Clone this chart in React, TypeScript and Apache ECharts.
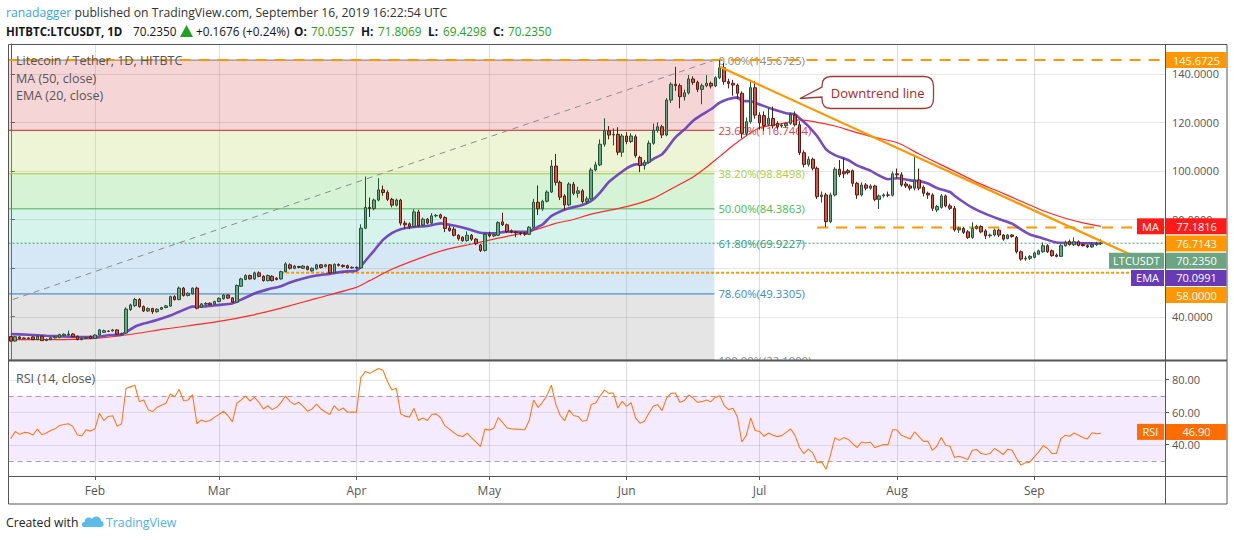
import React, { useEffect, useRef } from "react";
import * as echarts from "echarts";

const FONT = "'Open Sans', 'Noto Sans', sans-serif";

// ---------- categories ----------
const startDateUTC = Date.UTC(2019, 0, 13);
const dayCount = 261;
const monthNames = ["Jan", "Feb", "Mar", "Apr", "May", "Jun", "Jul", "Aug", "Sep", "Oct", "Nov", "Dec"];

// ---------- candles [open, close, low, high] ----------
const candlesJan = [
  [31.8, 29.9, 29.6, 32.0], [29.9, 31.7, 29.7, 32.1], [31.6, 30.9, 30.6, 31.9], [30.9, 31.2, 30.6, 31.5],
  [31.2, 31.0, 30.7, 31.4], [31.6, 30.5, 30.3, 31.9], [30.5, 31.9, 30.4, 32.2], [31.9, 30.1, 29.9, 32.3],
  [30.1, 30.6, 29.9, 31.0], [30.5, 31.3, 30.3, 31.6], [31.2, 31.6, 31.0, 31.9], [31.3, 32.6, 31.1, 32.9],
  [32.1, 32.7, 31.9, 33.1], [32.4, 32.8, 32.1, 34.2], [32.8, 31.7, 31.5, 33.2], [31.9, 30.5, 30.2, 32.1],
  [30.5, 31.0, 30.2, 31.3], [31.0, 31.4, 30.8, 31.7], [31.9, 31.0, 30.7, 32.1],
];
const candlesFeb = [
  [31.0, 32.4, 30.8, 32.7], [32.4, 34.5, 32.2, 34.9], [33.5, 34.2, 33.2, 34.6], [34.0, 33.9, 33.6, 34.3],
  [34.1, 34.5, 33.8, 34.9], [34.5, 32.7, 32.5, 34.8], [32.7, 33.0, 32.6, 33.4], [33.2, 43.1, 33.0, 43.8],
  [42.9, 44.8, 42.3, 45.3], [44.5, 47.0, 44.0, 47.7], [47.0, 44.1, 43.6, 47.6], [44.1, 42.3, 41.9, 44.6],
  [42.3, 43.3, 41.9, 43.8], [43.3, 42.0, 41.1, 43.6], [42.0, 43.0, 41.6, 43.4], [43.0, 43.7, 42.7, 44.0],
  [43.7, 44.4, 43.4, 44.8], [44.3, 48.2, 44.0, 48.6], [48.2, 47.0, 46.6, 48.8], [47.0, 51.7, 46.7, 52.4],
  [51.7, 48.7, 48.2, 52.2], [48.7, 49.6, 48.3, 50.0], [49.4, 51.7, 49.0, 52.0], [51.7, 43.4, 43.0, 52.3],
  [43.8, 45.2, 43.5, 45.6], [45.1, 45.4, 44.8, 45.9], [45.5, 44.9, 44.6, 45.8], [45.1, 46.2, 44.8, 46.5],
];
const candlesMar = [
  [46.2, 47.5, 45.9, 47.9], [47.3, 48.9, 47.0, 49.3], [48.9, 47.6, 47.2, 49.1], [47.7, 45.9, 45.5, 48.0],
  [45.9, 52.8, 45.6, 53.2], [52.5, 55.5, 52.2, 56.0], [55.3, 56.9, 55.0, 57.4], [56.9, 55.5, 55.2, 57.3],
  [55.5, 58.0, 55.1, 58.5], [58.0, 56.6, 56.2, 58.6], [56.6, 54.8, 54.4, 57.0], [54.8, 56.9, 54.5, 57.3],
  [56.6, 54.8, 54.5, 57.0], [55.8, 55.3, 54.9, 56.2], [55.5, 58.5, 55.2, 58.9], [58.5, 61.7, 58.2, 62.4],
  [61.3, 59.9, 59.4, 61.9], [59.9, 60.8, 59.5, 61.2], [60.6, 60.3, 59.9, 60.9], [59.9, 60.8, 59.6, 61.2],
  [60.6, 59.4, 59.0, 61.0], [58.8, 59.9, 58.5, 60.2], [59.7, 61.3, 59.3, 61.7], [61.3, 60.2, 59.8, 61.6],
  [60.6, 61.3, 60.3, 61.7], [61.3, 58.0, 57.6, 61.6], [58.0, 61.5, 57.8, 61.9], [61.5, 61.1, 60.6, 61.9],
  [61.1, 60.6, 60.1, 61.5], [61.0, 60.0, 59.7, 61.4], [60.0, 60.3, 59.7, 60.7],
];
const candlesApr = [
  [60.3, 60.0, 59.6, 60.6], [60.0, 76.4, 59.7, 78.0], [76.4, 85.0, 76.0, 97.7], [85.0, 84.5, 81.0, 89.0],
  [84.5, 88.0, 83.8, 88.6], [88.0, 92.2, 87.5, 97.0], [92.2, 91.1, 89.8, 94.0], [91.1, 88.3, 87.6, 92.0],
  [88.3, 85.9, 85.0, 88.9], [85.9, 88.0, 85.3, 88.6], [88.0, 78.5, 77.5, 88.5], [78.5, 77.8, 76.2, 79.5],
  [78.2, 77.1, 76.0, 78.8], [77.1, 83.1, 76.8, 84.2], [83.1, 77.4, 76.8, 84.0], [77.7, 80.1, 77.2, 80.8],
  [80.1, 78.5, 78.0, 80.6], [78.5, 81.5, 78.2, 82.6], [81.5, 81.7, 80.9, 82.2], [81.9, 80.8, 80.2, 82.4],
  [80.8, 76.3, 74.8, 81.3], [76.5, 75.4, 75.0, 77.4], [76.0, 73.5, 73.0, 76.9], [73.5, 72.1, 71.3, 73.9],
  [72.7, 71.3, 70.8, 73.1], [71.3, 73.5, 70.9, 75.1], [73.5, 71.9, 71.2, 74.0], [71.9, 70.0, 69.4, 72.3],
  [69.5, 67.2, 66.6, 70.0], [67.2, 73.9, 66.8, 74.4],
];
const candlesMay = [
  [73.9, 73.2, 72.6, 75.0], [73.2, 73.7, 72.8, 74.2], [73.5, 78.7, 73.2, 79.3], [79.0, 77.8, 77.3, 82.8],
  [77.8, 75.0, 74.4, 78.3], [75.3, 74.9, 74.3, 75.9], [74.9, 74.5, 72.7, 75.3], [74.5, 74.1, 73.5, 74.9],
  [74.3, 73.9, 73.2, 74.8], [73.9, 76.8, 73.6, 77.2], [76.8, 87.1, 76.5, 88.5], [87.1, 84.4, 81.8, 94.0],
  [84.4, 87.5, 83.6, 88.1], [87.5, 91.3, 87.0, 92.0], [91.3, 102.0, 90.9, 104.5], [102.0, 95.3, 94.0, 107.0],
  [95.3, 89.2, 88.0, 96.0], [89.7, 86.0, 84.0, 90.4], [86.0, 94.6, 85.5, 95.3], [94.5, 90.8, 90.0, 95.5],
  [90.8, 91.8, 89.0, 93.5], [91.8, 87.4, 86.5, 92.5], [87.4, 88.5, 86.3, 89.5], [88.5, 100.4, 88.0, 101.3],
  [100.4, 102.5, 99.8, 103.8], [102.5, 111.0, 102.0, 113.0], [111.0, 116.5, 110.0, 121.7], [116.5, 114.8, 113.0, 118.5],
  [114.8, 115.1, 110.5, 117.5], [115.1, 107.7, 106.5, 118.0], [107.7, 114.4, 105.8, 115.3],
];
const candlesJun = [
  [114.4, 112.1, 111.0, 116.0], [112.1, 114.4, 111.5, 115.5], [114.1, 106.3, 105.5, 115.0], [105.5, 102.2, 99.5, 106.2],
  [102.2, 103.6, 100.5, 104.5], [103.6, 111.4, 103.0, 112.5], [111.4, 116.7, 110.8, 119.5], [116.7, 118.2, 115.8, 120.0],
  [118.2, 114.8, 113.5, 119.0], [114.8, 129.2, 114.3, 130.0], [129.2, 135.7, 128.0, 136.5], [135.7, 135.1, 133.0, 142.9],
  [135.1, 130.6, 125.8, 136.0], [130.6, 132.2, 129.0, 133.5], [132.2, 137.9, 131.5, 139.5], [137.9, 136.5, 135.5, 139.0],
  [136.5, 133.6, 132.5, 137.2], [133.6, 135.1, 127.5, 136.0], [135.1, 136.1, 134.5, 139.5], [136.1, 135.0, 134.0, 136.8],
  [135.0, 138.4, 134.5, 139.0], [138.4, 142.5, 137.8, 145.6725], [142.5, 136.8, 135.5, 144.5], [136.8, 136.1, 134.0, 138.0],
  [136.1, 135.4, 131.0, 137.5], [135.4, 132.0, 129.5, 136.0], [132.0, 115.5, 113.5, 132.8], [115.5, 120.3, 114.5, 122.0],
  [120.3, 134.3, 119.5, 137.5], [134.3, 123.0, 121.5, 137.0],
];
const candlesJul = [
  [123.0, 119.8, 117.0, 124.2], [122.8, 118.7, 116.5, 124.5], [119.2, 121.6, 118.5, 126.0], [121.6, 118.6, 117.5, 126.5],
  [119.6, 118.2, 117.0, 120.5], [118.5, 118.9, 117.8, 119.8], [118.6, 119.6, 117.9, 120.2], [119.6, 123.3, 119.0, 124.0],
  [123.0, 119.0, 118.3, 124.5], [119.0, 107.5, 106.5, 120.5], [107.5, 102.7, 101.5, 108.5], [102.7, 104.8, 101.8, 106.0],
  [104.8, 101.1, 100.2, 105.5], [101.1, 89.4, 88.5, 101.8], [89.4, 90.1, 87.0, 91.5], [90.1, 79.1, 77.0, 91.0],
  [79.1, 90.1, 78.5, 91.0], [90.1, 100.7, 89.5, 101.5], [100.7, 98.4, 97.5, 104.5], [99.7, 98.8, 97.0, 105.5],
  [100.1, 99.3, 98.5, 100.8], [100.1, 94.9, 93.5, 100.6], [94.9, 90.1, 88.5, 95.5], [90.1, 94.2, 89.5, 95.3],
  [94.2, 92.9, 92.0, 95.0], [92.9, 93.8, 92.3, 94.5], [93.8, 88.3, 87.5, 94.3], [88.3, 89.7, 84.3, 90.3],
  [89.7, 90.1, 89.0, 90.8], [90.1, 90.0, 89.2, 91.5], [90.0, 98.8, 89.5, 99.8],
];
const candlesAug = [
  [98.8, 98.4, 97.0, 101.0], [98.4, 94.2, 93.5, 99.5], [94.6, 93.8, 93.0, 95.5], [93.8, 92.9, 92.0, 94.5],
  [92.9, 96.3, 92.0, 106.6], [96.3, 92.9, 92.0, 101.0], [93.3, 90.8, 89.5, 94.0], [90.8, 90.1, 88.5, 91.5],
  [90.1, 84.6, 83.5, 90.8], [83.9, 85.3, 83.0, 86.0], [85.0, 89.7, 84.5, 90.5], [89.7, 85.6, 85.0, 90.3],
  [85.6, 84.6, 84.0, 86.5], [84.6, 75.7, 75.0, 85.5], [75.7, 76.4, 74.5, 77.0], [76.3, 74.7, 74.0, 77.0],
  [74.9, 72.6, 72.0, 75.6], [72.6, 76.3, 72.0, 78.8], [76.3, 77.1, 75.8, 77.8], [77.1, 74.9, 74.3, 77.6],
  [75.3, 73.3, 72.0, 76.0], [73.3, 73.6, 72.5, 74.2], [73.6, 75.6, 73.0, 76.2], [75.6, 73.6, 72.8, 76.2],
  [73.6, 71.9, 71.2, 74.0], [72.2, 73.6, 71.8, 74.0], [73.6, 73.0, 72.5, 74.0], [72.6, 66.7, 66.0, 73.2],
  [66.7, 63.7, 63.0, 67.2], [63.7, 64.0, 63.0, 65.0], [64.0, 64.8, 63.3, 65.3],
];
const candlesSep = [
  [64.4, 66.2, 64.0, 66.8], [65.7, 67.1, 65.3, 67.6], [66.7, 69.2, 66.3, 70.5], [69.2, 66.7, 66.2, 69.8],
  [67.1, 65.1, 64.6, 67.6], [65.3, 64.8, 64.4, 66.0], [64.8, 69.2, 64.5, 69.8], [69.2, 70.6, 68.8, 71.3],
  [70.9, 69.7, 69.2, 71.7], [69.6, 70.8, 69.1, 72.6], [70.8, 69.3, 68.9, 71.4], [69.7, 69.2, 68.8, 70.1],
  [69.2, 68.7, 68.2, 69.7], [68.7, 69.6, 68.3, 70.7], [69.6, 70.0557, 69.1, 70.8], [70.0557, 70.235, 69.4298, 71.8069],
];

// ---------- RSI (14, close) ----------
const rsiJan = [43.7, 48.1, 46.3, 47.5, 47.3, 45.9, 49.5, 46.1, 47.1, 48.7, 49.7, 51.8, 52.4, 52.8, 51.2, 46.1, 45.3, 49.1, 48.3];
const rsiFeb = [49.7, 59.3, 54.8, 57.3, 57.7, 51.2, 52.8, 74.5, 75.5, 76.5, 66.4, 67.4, 61.5, 60.3, 62.9, 64.2, 65.4, 71.1, 69.4, 73.9, 67.0, 67.4, 70.7, 52.8, 55.2, 54.0, 54.8, 56.9];
const rsiMar = [58.5, 60.5, 57.9, 54.0, 65.4, 67.5, 69.8, 66.8, 69.0, 66.0, 61.9, 63.9, 61.5, 62.9, 66.0, 69.8, 66.6, 64.6, 66.0, 63.5, 60.5, 61.9, 64.9, 61.9, 60.0, 58.5, 64.0, 60.9, 62.5, 59.9, 60.0];
const rsiApr = [59.9, 81.2, 84.9, 83.8, 85.3, 86.8, 85.7, 78.8, 73.5, 74.7, 58.9, 57.5, 56.9, 62.3, 54.8, 56.4, 54.8, 58.5, 58.9, 56.5, 51.5, 49.5, 47.3, 45.5, 45.0, 47.0, 44.1, 41.5, 38.8, 49.5];
const rsiMay = [48.9, 50.0, 56.6, 53.6, 50.2, 49.7, 49.5, 49.3, 49.1, 54.8, 67.4, 62.9, 66.0, 70.1, 76.5, 64.9, 57.9, 54.8, 61.3, 57.9, 57.3, 54.4, 54.8, 64.6, 65.6, 70.0, 73.5, 71.5, 71.7, 62.5, 66.6];
const rsiJun = [63.5, 65.8, 56.4, 53.2, 54.4, 59.3, 63.6, 64.6, 60.9, 68.6, 71.5, 71.7, 66.0, 67.0, 70.5, 68.6, 66.0, 66.4, 67.4, 66.4, 69.0, 70.1, 64.0, 61.5, 62.3, 56.9, 41.6, 45.7, 56.4, 48.7];
const rsiJul = [48.1, 45.1, 47.1, 45.7, 44.9, 45.5, 47.5, 49.7, 45.7, 38.2, 34.5, 37.2, 34.9, 28.8, 29.4, 24.8, 33.5, 44.3, 42.6, 44.3, 43.2, 40.6, 38.2, 41.6, 41.0, 41.6, 38.2, 39.2, 40.0, 40.0, 49.1];
const rsiAug = [49.1, 45.7, 44.7, 43.5, 47.9, 44.7, 42.0, 42.0, 36.5, 39.0, 44.3, 39.6, 39.0, 32.1, 32.9, 31.9, 30.9, 36.5, 37.0, 34.5, 33.9, 34.5, 37.6, 35.9, 33.9, 37.2, 36.5, 31.5, 27.4, 28.8, 29.2];
const rsiSep = [32.5, 35.5, 39.4, 37.6, 34.5, 34.5, 43.7, 45.7, 45.1, 47.1, 45.7, 44.3, 43.5, 47.3, 46.7, 46.9];

// ---------- moving averages [dayIndex, value] ----------
const ma50 = [
  [0, 30.5], [9, 30.5], [19, 31.0], [26, 32.4], [35, 34.9], [47, 38.0], [54, 40.4], [61, 43.5], [69, 47.5],
  [78, 52.0], [81, 54.8], [86, 59.5], [93, 64.5], [98, 67.5], [104, 69.9], [110, 72.3], [117, 75.0], [123, 78.4],
  [127, 80.0], [131, 82.2], [139, 85.3], [145, 88.7], [150, 93.5], [154, 97.5], [157, 101.5], [160, 106.0],
  [163, 110.5], [166, 114.5], [169, 117.8], [174, 119.5], [178, 121.0], [182, 120.0], [186, 118.5], [190, 116.3],
  [195, 113.8], [200, 111.7], [205, 107.0], [210, 102.5], [214, 99.0], [218, 95.3], [223, 91.5], [228, 87.5],
  [233, 83.6], [238, 80.5], [242, 78.6], [246, 77.1816],
];
const ema20 = [
  [0, 32.8], [4, 32.5], [8, 32.1], [12, 31.8], [16, 31.6], [19, 31.6], [22, 32.3], [25, 32.55], [26, 33.55],
  [28, 35.8], [30, 37.1], [33, 38.6], [36, 40.4], [38, 42.0], [41, 44.1], [44, 44.2], [47, 44.8], [50, 45.4],
  [52, 47.0], [55, 49.5], [58, 51.2], [61, 52.5], [63, 54.0], [66, 55.7], [69, 56.9], [72, 57.6], [75, 58.5],
  [78, 58.9], [79, 60.6], [80, 62.9], [82, 67.2], [84, 71.6], [86, 74.4], [88, 76.0], [91, 76.9], [94, 77.3],
  [97, 78.4], [100, 77.5], [103, 76.2], [106, 74.5], [109, 74.3], [112, 75.0], [115, 74.9], [117, 75.0],
  [118, 76.1], [120, 77.9], [122, 81.4], [124, 83.3], [126, 84.6], [129, 86.0], [131, 87.6], [133, 91.1],
  [135, 95.5], [137, 98.4], [139, 101.1], [141, 102.7], [143, 102.8], [145, 104.9], [147, 106.9], [148, 109.0],
  [150, 113.8], [152, 117.0], [154, 120.7], [156, 123.2], [158, 125.4], [160, 128.1], [162, 129.6], [164, 130.3],
  [165, 128.9], [167, 128.7], [169, 127.4], [172, 125.4], [175, 123.8], [177, 123.3], [178, 121.8], [180, 118.5],
  [182, 114.3], [184, 108.9], [186, 106.5], [189, 104.5], [191, 102.3], [194, 100.1], [196, 98.1], [198, 96.6],
  [200, 97.0], [203, 96.1], [205, 95.8], [207, 94.8], [209, 93.0], [212, 91.3], [213, 89.8], [215, 87.2],
  [217, 84.9], [220, 82.3], [223, 80.2], [226, 78.3], [228, 75.9], [230, 73.8], [233, 72.2], [236, 70.5],
  [239, 70.3], [242, 70.2], [246, 70.0991],
];

// ---------- drawings ----------
const fibLevels = ["0.00%", "23.60%", "38.20%", "50.00%", "61.80%", "78.60%", "100.00%"];
const fibPrices = [145.6725, 116.7464, 98.8498, 84.3863, 69.9227, 49.3305, 22.1];
const fibAnchorStart = [-39.5, 22.1];
const fibAnchorEnd = [158.8, 145.6725];
const downtrend = [[160, 142.9], [253.8, 64.6]];
const levelHigh = 145.6725;
const levelResist = 76.7143;
const levelResistFrom = 182;
const levelSupport = 58.0;
const levelSupportFrom = 61;
const lastClose = 70.235;
const lastMA = 77.1816;
const lastEMA = 70.0991;
const lastRSI = 46.9;
const priceTicks = [40, 60, 80, 100, 120, 140];
const priceLabelTicks = [40, 80, 100, 120, 140];
const rsiTicks = [40, 60, 80];
const rsiBand = [70, 30];
const priceRange = [22.1, 152.3];
const rsiRange = [20.7, 91.4];

// ---------- header ----------
const author = "ranadagger";
const published = " published on TradingView.com, September 16, 2019 16:22:54 UTC";
const symbolText = "HITBTC:LTCUSDT, 1D";
const lastText = "70.2350";
const changeText = "+0.1676 (+0.24%)";
const ohlcText = [["O:", "70.0557"], ["H:", "71.8069"], ["L:", "69.4298"], ["C:", "70.2350"]];

// ---------- styles ----------
const bandColors = [
  "rgba(222,115,118,0.3)", "rgba(195,222,118,0.3)", "rgba(118,215,118,0.3)",
  "rgba(118,215,192,0.3)", "rgba(118,178,222,0.3)", "rgba(168,168,168,0.3)",
];
const fibLineColors = ["#7a7a7a", "#c62828", "#a4cc33", "#4caf50", null, "#2f7fc1", "#9e9e9e"];
const fibTextColors = ["#8a8a8a", "#e2414b", "#a9cf3f", "#4cbb4c", "#2a9d80", "#3d8bd0", "#8a8a8a"];
const ohlcKeyX = [294, 361, 428, 493];
const ohlcValX = [311, 378, 443, 508];

const calloutPath =
  "M 831 76.5 H 924 Q 933.5 76.5 933.5 86 V 99 Q 933.5 108.5 924 108.5 H 831 Q 822 108.5 822 99 V 97 L 800 98.5 L 822 87 V 86 Q 822 76.5 831 76.5 Z";
const logoPath =
  "M 3 15 C 0 15 0 10 3.5 10 C 3.5 6 8 4 11 7 C 13 3 20 4 20 9 C 23.5 9 23.5 15 20 15 Z";

let shapesRegistered = false;
function registerShapes() {
  if (shapesRegistered) return;
  echarts.graphic.registerShape("callout", echarts.graphic.extendPath(calloutPath, {}));
  echarts.graphic.registerShape("tvlogo", echarts.graphic.extendPath(logoPath, {}));
  shapesRegistered = true;
}

export default function App() {
  const ref = useRef<HTMLDivElement>(null);

  useEffect(() => {
    registerShapes();
    const el = ref.current!;
    const chart = echarts.init(el, null, { renderer: "svg" });

    const categories: string[] = [];
    for (let i = 0; i < dayCount; i++) {
      categories.push(new Date(startDateUTC + i * 86400000).toISOString().slice(0, 10));
    }
    const isMonthStart = (i: number) => !!categories[i] && categories[i].endsWith("-01");
    const monthLabel = (v: string) => monthNames[parseInt(v.slice(5, 7), 10) - 1];

    const candles = [
      ...candlesJan, ...candlesFeb, ...candlesMar, ...candlesApr, ...candlesMay,
      ...candlesJun, ...candlesJul, ...candlesAug, ...candlesSep,
    ];
    const rsi = [
      ...rsiJan, ...rsiFeb, ...rsiMar, ...rsiApr, ...rsiMay, ...rsiJun, ...rsiJul, ...rsiAug, ...rsiSep,
    ];

    const xMin = -0.5;
    const xMax = dayCount - 0.5;

    const fibBandRows = fibPrices.slice(0, -1).map((p, i) => [fibAnchorEnd[0], p, fibPrices[i + 1], i]);
    const fibLineRows = fibPrices.map((p, i) => [fibAnchorEnd[0], p, i]);

    const hLine = (data: number[][], color: string, width: number, dash: any, z: number) => ({
      type: "line", xAxisIndex: 2, yAxisIndex: 0, data, silent: true, symbol: "none", z,
      lineStyle: { color, width, type: dash }, animation: false,
    });

    const option: any = {
      animation: false,
      backgroundColor: "#ffffff",
      textStyle: { fontFamily: FONT },
      grid: [
        { left: 8.6, right: 69, top: 44, height: 316 },
        { left: 8.6, right: 69, top: 361, height: 115 },
      ],
      xAxis: [
        {
          type: "category", gridIndex: 0, data: categories,
          axisLine: { show: false }, axisTick: { show: false }, axisLabel: { show: false },
          splitLine: { show: true, interval: (i: number) => isMonthStart(i), alignWithLabel: true, lineStyle: { color: "#dedede" } },
        },
        {
          type: "category", gridIndex: 1, data: categories,
          axisLine: { show: false },
          axisTick: { show: true, interval: (i: number) => isMonthStart(i), alignWithLabel: true, length: 4, lineStyle: { color: "#555" } },
          axisLabel: { interval: (i: number) => isMonthStart(i), formatter: monthLabel, color: "#555", fontSize: 12, margin: 8, fontFamily: FONT },
          splitLine: { show: true, interval: (i: number) => isMonthStart(i), alignWithLabel: true, lineStyle: { color: "#dedede" } },
        },
        { type: "value", gridIndex: 0, min: xMin, max: xMax, show: false },
      ],
      yAxis: [
        {
          type: "value", gridIndex: 0, position: "right", min: priceRange[0], max: priceRange[1],
          axisLine: { show: true, lineStyle: { color: "#555" } },
          axisTick: { show: true, customValues: priceTicks, length: 4, lineStyle: { color: "#555" } },
          axisLabel: { customValues: priceLabelTicks, formatter: (v: number) => v.toFixed(4), color: "#555", fontSize: 11, margin: 7, fontFamily: FONT },
          splitLine: { show: false },
        },
        {
          type: "value", gridIndex: 1, position: "right", min: rsiRange[0], max: rsiRange[1],
          axisLine: { show: true, lineStyle: { color: "#555" } },
          axisTick: { show: true, customValues: rsiTicks, length: 4, lineStyle: { color: "#555" } },
          axisLabel: { customValues: rsiTicks, formatter: (v: number) => v.toFixed(2), color: "#555", fontSize: 11, margin: 7, fontFamily: FONT },
          splitLine: { show: false },
        },
      ],
      series: [
        {
          type: "custom", name: "fibBands", xAxisIndex: 2, yAxisIndex: 0, silent: true, z: 1, clip: true,
          data: fibBandRows, encode: { x: 0, y: [1, 2] },
          renderItem: (params: any, api: any) => {
            const cs = params.coordSys;
            const p1 = api.coord([api.value(0), api.value(1)]);
            const p2 = api.coord([api.value(0), api.value(2)]);
            return {
              type: "rect",
              shape: { x: cs.x, y: p1[1], width: p1[0] - cs.x, height: p2[1] - p1[1] },
              style: { fill: bandColors[api.value(3)] },
            };
          },
        },
        {
          type: "custom", name: "priceGrid", xAxisIndex: 2, yAxisIndex: 0, silent: true, z: 2,
          data: priceTicks.map((v) => [0, v]), encode: { x: 0, y: 1 },
          renderItem: (params: any, api: any) => {
            const cs = params.coordSys;
            const y = Math.round(api.coord([0, api.value(1)])[1]) + 0.5;
            return { type: "line", shape: { x1: cs.x, y1: y, x2: cs.x + cs.width, y2: y }, style: { stroke: "rgba(0,0,0,0.09)", lineWidth: 1 } };
          },
        },
        {
          type: "custom", name: "fibLines", xAxisIndex: 2, yAxisIndex: 0, silent: true, z: 3, clip: true,
          data: fibLineRows, encode: { x: 0, y: 1 },
          renderItem: (params: any, api: any) => {
            const cs = params.coordSys;
            const idx = api.value(2);
            const p = api.coord([api.value(0), api.value(1)]);
            const children: any[] = [];
            const lc = fibLineColors[idx];
            if (lc) {
              children.push({ type: "line", shape: { x1: cs.x, y1: p[1], x2: p[0], y2: p[1] }, style: { stroke: lc, lineWidth: 1 } });
            }
            children.push({
              type: "text",
              style: {
                text: `${fibLevels[idx]}(${fibPrices[idx].toFixed(4)})`,
                x: p[0] + 4, y: p[1], verticalAlign: "middle", align: "left",
                fill: fibTextColors[idx], fontSize: 11.3, fontFamily: FONT,
              },
            });
            return { type: "group", children };
          },
        },
        {
          type: "line", name: "fibDiagonal", xAxisIndex: 2, yAxisIndex: 0, data: [fibAnchorStart, fibAnchorEnd],
          silent: true, symbol: "none", z: 3, lineStyle: { color: "#8c8c8c", width: 1, type: [6, 5] },
        },
        hLine([[xMin, lastClose], [xMax, lastClose]], "#3f9a66", 1, [2, 2], 3),
        hLine([[xMin, levelHigh], [xMax, levelHigh]], "#ff9800", 2, [11, 8], 4),
        hLine([[levelResistFrom, levelResist], [xMax, levelResist]], "#ff9800", 2, [11, 8], 4),
        hLine([[levelSupportFrom, levelSupport], [xMax, levelSupport]], "#ff9800", 2, [3, 2], 4),
        {
          type: "line", name: "MA 50", xAxisIndex: 2, yAxisIndex: 0, data: ma50, smooth: 0.2,
          silent: true, symbol: "none", z: 5, lineStyle: { color: "#ff2a2a", width: 1.2 },
        },
        {
          type: "line", name: "EMA 20", xAxisIndex: 2, yAxisIndex: 0, data: ema20, smooth: 0.2,
          silent: true, symbol: "none", z: 5, lineStyle: { color: "#673ab7", width: 2.6, opacity: 0.9 },
        },
        {
          type: "candlestick", name: "LTCUSDT", xAxisIndex: 0, yAxisIndex: 0, data: candles, barWidth: 3, z: 6,
          silent: true,
          itemStyle: { color: "#6ba583", color0: "#d75442", borderColor: "#225437", borderColor0: "#5b1a13", borderWidth: 1 },
        },
        {
          type: "line", name: "Downtrend", xAxisIndex: 2, yAxisIndex: 0, data: downtrend,
          silent: true, symbol: "none", z: 7, lineStyle: { color: "#ff9800", width: 2.2 },
        },
        {
          type: "custom", name: "rsiBand", xAxisIndex: 1, yAxisIndex: 1, silent: true, z: 1,
          data: [[0, rsiBand[0], rsiBand[1]]], encode: { x: 0, y: [1, 2] },
          renderItem: (params: any, api: any) => {
            const cs = params.coordSys;
            const y1 = api.coord([0, api.value(1)])[1];
            const y2 = api.coord([0, api.value(2)])[1];
            return { type: "rect", shape: { x: cs.x, y: y1, width: cs.width, height: y2 - y1 }, style: { fill: "rgba(155,60,255,0.1)" } };
          },
        },
        {
          type: "custom", name: "rsiGrid", xAxisIndex: 1, yAxisIndex: 1, silent: true, z: 2,
          data: rsiTicks.map((v) => [0, v]), encode: { x: 0, y: 1 },
          renderItem: (params: any, api: any) => {
            const cs = params.coordSys;
            const y = Math.round(api.coord([0, api.value(1)])[1]) + 0.5;
            return { type: "line", shape: { x1: cs.x, y1: y, x2: cs.x + cs.width, y2: y }, style: { stroke: "rgba(0,0,0,0.09)", lineWidth: 1 } };
          },
        },
        {
          type: "custom", name: "rsiBounds", xAxisIndex: 1, yAxisIndex: 1, silent: true, z: 3,
          data: rsiBand.map((v) => [0, v]), encode: { x: 0, y: 1 },
          renderItem: (params: any, api: any) => {
            const cs = params.coordSys;
            const y = Math.round(api.coord([0, api.value(1)])[1]) + 0.5;
            return { type: "line", shape: { x1: cs.x, y1: y, x2: cs.x + cs.width, y2: y }, style: { stroke: "#a59bb3", lineWidth: 1, lineDash: [5, 4] } };
          },
        },
        {
          type: "line", name: "RSI", xAxisIndex: 1, yAxisIndex: 1, data: rsi, silent: true, symbol: "none", z: 5,
          lineStyle: { color: "#ff7a1a", width: 1.1 },
        },
      ],
    };

    chart.setOption(option);

    const py = (v: number) => chart.convertToPixel({ yAxisIndex: 0 }, v) as number;
    const ry = (v: number) => chart.convertToPixel({ yAxisIndex: 1 }, v) as number;

    const els: any[] = [];
    const txt = (x: number, y: number, text: string, fill: string, size: number, extra: any = {}, z = 100) => ({
      type: "text", z,
      style: { x, y, text, fill, fontSize: size, fontFamily: FONT, verticalAlign: "middle", align: "left", ...extra },
    });

    // header line 1
    els.push({
      type: "text", z: 100,
      style: {
        x: 6, y: 12, verticalAlign: "middle", align: "left", fontFamily: FONT, fontSize: 12.2,
        text: `{a|${author}}{b|${published}}`,
        rich: {
          a: { fill: "#3aa6e0", fontSize: 12.2, fontFamily: FONT },
          b: { fill: "#333333", fontSize: 12.2, fontFamily: FONT },
        },
      },
    });
    // header line 2
    els.push(txt(6, 31, symbolText, "#131722", 11.5, { fontWeight: "bold" }));
    els.push(txt(133, 31, lastText, "#131722", 11.8));
    els.push({ type: "polygon", z: 100, shape: { points: [[180, 37], [193, 37], [186.5, 25]] }, style: { fill: "#1fa31f" } });
    els.push(txt(196, 31, changeText, "#131722", 11.8));
    ohlcText.forEach(([k, v], i) => {
      els.push(txt(ohlcKeyX[i], 31, k, "#131722", 11.8, { fontWeight: "bold" }));
      els.push(txt(ohlcValX[i], 31, v, "#1fa31f", 11.8));
    });

    // legends
    els.push(txt(16, 60, "Litecoin / Tether, 1D, HITBTC", "#555", 12.5));
    els.push(txt(16, 78, "MA (50, close)", "#555", 12.5));
    els.push(txt(16, 95, "EMA (20, close)", "#555", 12.5));
    els.push(txt(16, 378, "RSI (14, close)", "#555", 12.5));

    // callout
    els.push({ type: "callout", x: 0, y: 0, z: 90, style: { fill: "#ffffff", stroke: "#a33a3a", lineWidth: 1.3 } });
    els.push(txt(877.7, 92.5, "Downtrend line", "#b02828", 13, { align: "center" }));

    // frame
    const frame = "#555";
    els.push({ type: "rect", z: 95, shape: { x: 8.5, y: 44.5, width: 1218.5, height: 459.5 }, style: { fill: "none", stroke: frame, lineWidth: 1 } });
    els.push({ type: "line", z: 95, shape: { x1: 8, y1: 360.5, x2: 1227, y2: 360.5 }, style: { stroke: frame, lineWidth: 2 } });
    els.push({ type: "line", z: 95, shape: { x1: 8, y1: 476.5, x2: 1227, y2: 476.5 }, style: { stroke: frame, lineWidth: 1.2 } });
    els.push({ type: "line", z: 95, shape: { x1: 1165.5, y1: 44, x2: 1165.5, y2: 504 }, style: { stroke: frame, lineWidth: 1 } });

    // right axis labels
    const valueBox = (y: number, color: string, text: string) => {
      els.push({ type: "rect", z: 110, shape: { x: 1166, y: y - 8, width: 60.5, height: 16 }, style: { fill: color } });
      els.push(txt(1196.5, y, text, "#ffffff", 11, { align: "center" }, 120));
    };
    const tagBox = (y: number, color: string, text: string, w: number) => {
      els.push({ type: "rect", z: 110, shape: { x: 1164 - w, y: y - 8, width: w, height: 16 }, style: { fill: color } });
      els.push(txt(1164 - w / 2, y, text, "#ffffff", 11, { align: "center" }, 120));
    };
    valueBox(py(levelHigh), "#ff9800", levelHigh.toFixed(4));

    const stack = [
      { v: lastMA, color: "#ff1a1a", tag: "MA", w: 27 },
      { v: levelResist, color: "#ff9800" },
      { v: lastClose, color: "#6ba583", tag: "LTCUSDT", w: 55 },
      { v: lastEMA, color: "#673ab7", tag: "EMA", w: 33 },
      { v: levelSupport, color: "#ff9800" },
    ];
    let prevY = -1000;
    stack.forEach((s: any) => {
      const y = Math.max(py(s.v), prevY + 17.2);
      prevY = y;
      if (s.tag) tagBox(y, s.color, s.tag, s.w);
      valueBox(y, s.color, s.v.toFixed(4));
    });
    const rsiY = ry(lastRSI) - 1.5;
    tagBox(rsiY, "#ff6d00", "RSI", 27);
    valueBox(rsiY, "#ff6d00", lastRSI.toFixed(2));

    // footer
    els.push(txt(6, 522, "Created with", "#222", 12.2));
    els.push({ type: "tvlogo", x: 81, y: 512, z: 100, style: { fill: "#5bbbe9" } });
    els.push({ type: "polyline", z: 101, shape: { points: [[84, 24], [89, 19.5], [93, 22.5], [99, 17]] }, style: { stroke: "#ffffff", lineWidth: 1.6, fill: "none" } });
    els.push(txt(106, 522, "TradingView", "#4fb3e6", 12.3));

    chart.setOption({ graphic: { elements: els } });

    return () => chart.dispose();
  }, []);

  return (
    <div style={{ position: "fixed", left: 0, top: 0, width: 1234, height: 540, background: "#fff" }}>
      <div ref={ref} style={{ width: 1234, height: 540 }} />
    </div>
  );
}
